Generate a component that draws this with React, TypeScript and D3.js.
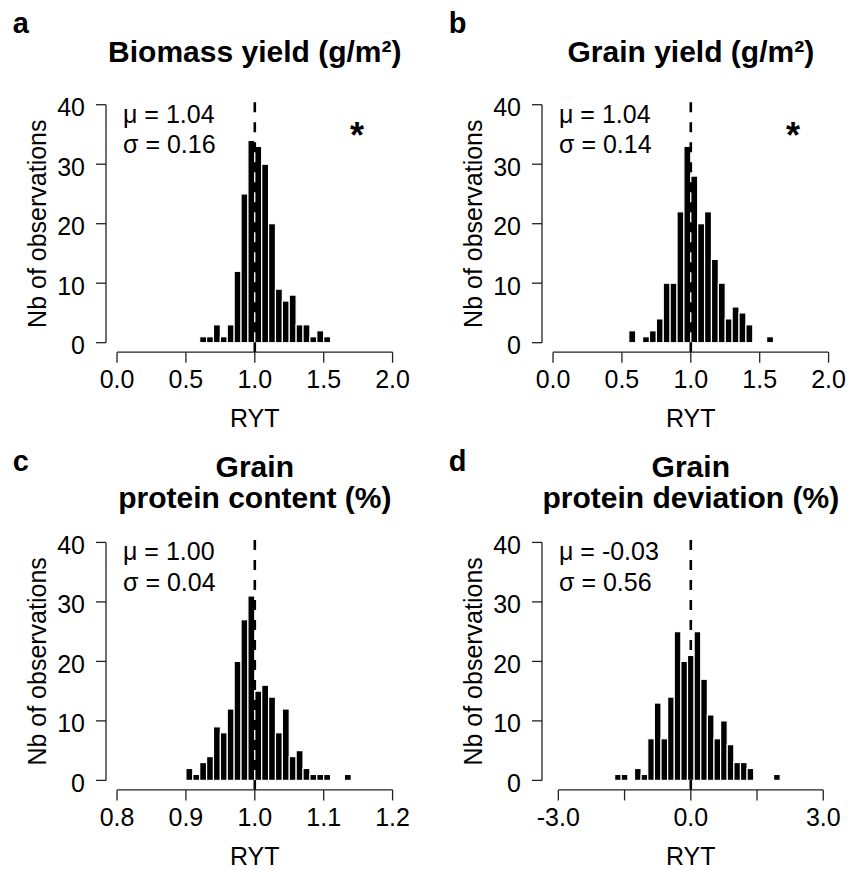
import React from 'react';
import * as d3 from 'd3';

// counts per bin (n = 197 each)
const biomassCounts = [1, 1, 3, 1, 3, 12, 25, 34, 33, 30, 20, 9, 7, 8, 3, 3, 1, 2, 1];
const grainCounts = [2, 0, 1, 2, 4, 10, 10, 22, 33, 28, 20, 22, 14, 10, 4, 6, 5, 3, 0, 0, 1];
const proteinCounts = [2, 1, 3, 4, 9, 8, 12, 20, 27, 31, 15, 16, 14, 8, 12, 4, 5, 2, 1, 1, 1, 0, 0, 1];
const deviationCounts = [1, 1, 0, 2, 1, 7, 13, 7, 14, 25, 20, 21, 25, 17, 11, 7, 10, 6, 3, 3, 2, 0, 0, 0, 1];

const binStarts = [0.6, 0.55, 0.9, -1.725];
const binWidths = [0.05, 0.05, 0.01, 0.15];

const panelLetters = ['a', 'b', 'c', 'd'];
const titleLines = [
  ['Biomass yield (g/m²)'],
  ['Grain yield (g/m²)'],
  ['Grain', 'protein content (%)'],
  ['Grain', 'protein deviation (%)'],
];
const meanLabels = ['μ = 1.04', 'μ = 1.04', 'μ = 1.00', 'μ = -0.03'];
const sdLabels = ['σ = 0.16', 'σ = 0.14', 'σ = 0.04', 'σ = 0.56'];
const refLines = [1, 1, 1, 0];
const starred = [true, true, false, false];

const xDomains = [[-0.08, 2.08], [-0.08, 2.08], [0.784, 1.216], [-3.37, 3.37]];
const xTicks = [
  [0, 0.5, 1, 1.5, 2],
  [0, 0.5, 1, 1.5, 2],
  [0.8, 0.9, 1.0, 1.1, 1.2],
  [-3, -1.5, 0, 1.5, 3],
];
const xTickLabels = [
  ['0.0', '0.5', '1.0', '1.5', '2.0'],
  ['0.0', '0.5', '1.0', '1.5', '2.0'],
  ['0.8', '0.9', '1.0', '1.1', '1.2'],
  ['-3.0', '', '0.0', '', '3.0'],
];
const yTicks = [0, 10, 20, 30, 40];

const allCounts = [biomassCounts, grainCounts, proteinCounts, deviationCounts];

// layout of the 2x2 grid
const panelLeft = [106, 542, 106, 542];
const panelTop = [95.2, 95.2, 532.9, 532.9];
const W = 297.6;
const H = 257;

const font = '"Liberation Sans", Arial, Helvetica, sans-serif';
const axisColor = '#222';

const Panel: React.FC<{ i: number }> = ({ i }) => {
  const L = panelLeft[i];
  const T = panelTop[i];
  const B = T + H;
  const x = d3.scaleLinear().domain(xDomains[i]).range([L, L + W]);
  const y = d3.scaleLinear().domain([-1.6, 41.6]).range([B, T]);
  const counts = allCounts[i];
  const ticks = xTicks[i];
  const lines = titleLines[i];

  return (
    <g fontFamily={font}>
      {/* panel letter */}
      <text x={L - 93.3} y={T - 62} fontSize={29} fontWeight="bold">{panelLetters[i]}</text>

      {/* title */}
      {lines.length === 1 ? (
        <text x={L + W / 2} y={T - 33} fontSize={30} fontWeight="bold" textAnchor="middle">{lines[0]}</text>
      ) : (
        lines.map((ln, k) => (
          <text key={k} x={L + W / 2} y={T - 56 + k * 31} fontSize={30} fontWeight="bold" textAnchor="middle">{ln}</text>
        ))
      )}

      {/* bars */}
      {counts.map((c, k) => {
        if (c === 0) return null;
        const x0 = x(binStarts[i] + k * binWidths[i]);
        const x1 = x(binStarts[i] + (k + 1) * binWidths[i]);
        return (
          <rect key={k} x={x0} y={y(c)} width={x1 - x0} height={y(0) - y(c)}
            fill="#000" stroke="#fff" strokeWidth={1.2} />
        );
      })}

      {/* mean reference line */}
      <line x1={x(refLines[i])} x2={x(refLines[i])} y1={B} y2={T}
        stroke="#000" strokeWidth={2.6} strokeDasharray="10,10" />

      {/* y axis */}
      <line x1={L} x2={L} y1={y(0)} y2={y(40)} stroke={axisColor} strokeWidth={1.3} />
      {yTicks.map(t => (
        <g key={t}>
          <line x1={L - 10} x2={L} y1={y(t)} y2={y(t)} stroke={axisColor} strokeWidth={1.3} />
          <text x={L - 21} y={y(t) + 2.5} fontSize={25} textAnchor="end" dominantBaseline="central">{t}</text>
        </g>
      ))}
      <text transform={`translate(${L - 60},${T + H / 2}) rotate(-90)`} fontSize={25} textAnchor="middle">Nb of observations</text>

      {/* x axis */}
      <line x1={x(ticks[0])} x2={x(ticks[ticks.length - 1])} y1={B} y2={B} stroke={axisColor} strokeWidth={1.3} />
      {ticks.map((t, k) => (
        <g key={k}>
          <line x1={x(t)} x2={x(t)} y1={B} y2={B + 10.5} stroke={axisColor} strokeWidth={1.3} />
          <text x={x(t)} y={B + 36} fontSize={25} textAnchor="middle">{xTickLabels[i][k]}</text>
        </g>
      ))}
      <text x={L + W / 2} y={B + 75} fontSize={25} textAnchor="middle">RYT</text>

      {/* stats */}
      <text x={L + 17} y={T + 27.3} fontSize={25}>{meanLabels[i]}</text>
      <text x={L + 17} y={T + 57.8} fontSize={25}>{sdLabels[i]}</text>

      {starred[i] && (
        <text x={L + 251} y={T + 52.3} fontSize={36} fontWeight="bold" textAnchor="middle">*</text>
      )}
    </g>
  );
};

export default function App() {
  return (
    <svg width={848} height={870} style={{ position: 'absolute', left: 0, top: 0, background: '#fff' }}>
      <rect width={848} height={870} fill="#fff" />
      {[0, 1, 2, 3].map(i => <Panel key={i} i={i} />)}
    </svg>
  );
}
